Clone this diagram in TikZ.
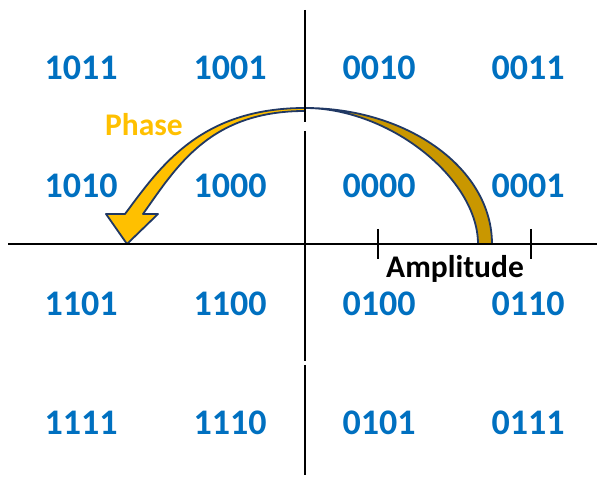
\documentclass[tikz,border=0pt]{standalone}
\usepackage{fontspec}
\setmainfont{Carlito}
\definecolor{codeblue}{HTML}{0070C0}
\definecolor{gold}{HTML}{FFC000}
\definecolor{darkgold}{HTML}{C99700}
\definecolor{navy}{HTML}{203864}
\begin{document}
\begin{tikzpicture}[x=1pt,y=1pt,
  code/.style={anchor=base,text=codeblue,font=\fontsize{36}{36}\selectfont\bfseries,inner sep=0pt},
  caption/.style={anchor=base,font=\fontsize{31.5}{31.5}\selectfont\bfseries,inner sep=0pt},
  axis/.style={line width=2.2pt,black},
  band/.style={draw=navy,line width=1.8pt,line join=round}]
\useasboundingbox (0,0) rectangle (597,478);

% curved phase arrow: front half with head (left)
\draw[band,fill=gold] (305,370)
  .. controls (200,370) and (160,311) .. (125,264)
  -- (106,264) -- (127,234) -- (158,264) -- (143,264)
  .. controls (177,312) and (210,367) .. (305,367) -- cycle;
% back half (right)
\draw[band,fill=darkgold] (492,234)
  arc[start angle=0,end angle=90,x radius=187,y radius=136]
  .. controls (390,370) and (478,299) .. (478,234) -- cycle;

% axes
\draw[axis] (8,234) -- (597,234);
\draw[axis] (305,468) -- (305,356);
\draw[axis] (305,347) -- (305,117);
\draw[axis] (305,113) -- (305,3);
% amplitude ticks
\draw[axis] (378,249) -- (378,219);
\draw[axis] (531,249) -- (531,219);

% symbol codes
\node[code] (c1011) at (81,398) {1011};
\node[code] (c1001) at (230,398) {1001};
\node[code] (c0010) at (379,398) {0010};
\node[code] (c0011) at (528,398) {0011};
\node[code] (c1010) at (81,280) {1010};
\node[code] (c1000) at (230,280) {1000};
\node[code] (c0000) at (379,280) {0000};
\node[code] (c0001) at (528,280) {0001};
\node[code] (c1101) at (81,162) {1101};
\node[code] (c1100) at (230,162) {1100};
\node[code] (c0100) at (379,162) {0100};
\node[code] (c0110) at (528,162) {0110};
\node[code] (c1111) at (81,43) {1111};
\node[code] (c1110) at (230,43) {1110};
\node[code] (c0101) at (379,43) {0101};
\node[code] (c0111) at (528,43) {0111};

% captions
\node[caption,text=gold] (phase) at (144,342) {Phase};
\node[caption,text=black] (amp) at (455,200) {Amplitude};
\end{tikzpicture}
\end{document}
